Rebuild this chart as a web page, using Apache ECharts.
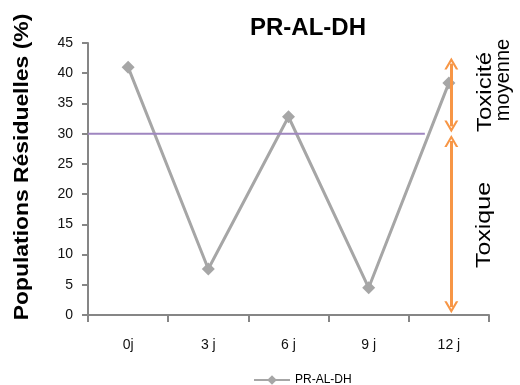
<!DOCTYPE html>
<html>
<head>
<meta charset="utf-8">
<script src="https://cdn.jsdelivr.net/npm/echarts@6/dist/echarts.min.js"></script>
<style>html,body{margin:0;padding:0;background:#fff}#c{width:520px;height:385px}</style>
</head>
<body>
<div id="c"></div>
<script>
var categories = ['0j', '3 j', '6 j', '9 j', '12 j'];
var seriesName = 'PR-AL-DH';
var values = [41, 7.6, 32.8, 4.5, 38.4];
var threshold = 30;
var thresholdEnd = 4.2;      // on hidden value x axis (0..5)
var arrowX = 4.53;
var arrowTop = 41.6;
var arrowMidUpper = 31.2;
var arrowMidLower = 28.8;
var arrowBottom = 1.3;
var yTicks = [0, 45, 5];

var chart = echarts.init(document.getElementById('c'));
var chevron = 'path://M0,12 L7,0 L14,12 L11.6,12 L7,4.2 L2.4,12 Z';
var orange = '#f79646';
chart.setOption({
  animation: false,
  title: {
    text: 'PR-AL-DH', left: 303, top: 11, textAlign: 'center',
    textStyle: { fontFamily: 'Liberation Sans', fontWeight: 'bold', fontSize: 24, color: '#000' }
  },
  grid: { left: 88, right: 31, top: 43, bottom: 70 },
  legend: {
    bottom: -6, left: 248,
    data: [seriesName],
    itemWidth: 36, itemHeight: 12, itemGap: 4,
    textStyle: { fontFamily: 'Liberation Sans', fontSize: 12, color: '#000' }
  },
  xAxis: [{
    type: 'category', data: categories, boundaryGap: true,
    axisLine: { lineStyle: { color: '#868686', width: 2 } },
    axisTick: { show: true, alignWithLabel: false, length: 7, lineStyle: { color: '#868686', width: 2 } },
    axisLabel: { fontFamily: 'Liberation Sans', fontSize: 14, color: '#111', margin: 23 }
  }, {
    type: 'value', min: 0, max: 5, show: false
  }],
  yAxis: {
    type: 'value', min: yTicks[0], max: yTicks[1], interval: yTicks[2],
    splitLine: { show: false },
    axisLine: { show: true, lineStyle: { color: '#868686', width: 2 } },
    axisTick: { show: true, length: 6, lineStyle: { color: '#868686', width: 2 } },
    axisLabel: { fontFamily: 'Liberation Sans', fontSize: 14, color: '#111', margin: 15 }
  },
  series: [{
    name: seriesName, type: 'line', data: values,
    symbol: 'diamond', symbolSize: 13, showSymbol: true,
    lineStyle: { color: '#a6a6a6', width: 3 },
    itemStyle: { color: '#a6a6a6' }
  }, {
    name: 'seuil', type: 'line', xAxisIndex: 1,
    data: [[0, threshold], [thresholdEnd, threshold]],
    symbol: 'none', lineStyle: { color: '#9f86c0', width: 2 },
    markLine: {
      silent: true, symbol: [chevron, chevron], symbolSize: [14, 12], symbolOffset: 0,
      label: { show: false },
      lineStyle: { color: orange, width: 3, type: 'solid' },
      data: [
        [{ coord: [arrowX, arrowTop] }, { coord: [arrowX, arrowMidUpper] }],
        [{ coord: [arrowX, arrowMidLower] }, { coord: [arrowX, arrowBottom] }]
      ]
    }
  }],
  graphic: [
    { type: 'text', x: 12, y: 167, rotation: Math.PI / 2, scaleX: 1.09,
      style: { text: 'Populations Résiduelles (%)', fontFamily: 'Liberation Sans', fontWeight: 'bold', fontSize: 21,
               fill: '#000', align: 'center', verticalAlign: 'top' } },
    { type: 'text', x: 475, y: 92, rotation: Math.PI / 2, scaleX: 1.2,
      style: { text: 'Toxicité', fontFamily: 'Liberation Sans', fontSize: 20, fill: '#000', align: 'center', verticalAlign: 'top' } },
    { type: 'text', x: 493, y: 80, rotation: Math.PI / 2,
      style: { text: 'moyenne', fontFamily: 'Liberation Sans', fontSize: 20, fill: '#000', align: 'center', verticalAlign: 'top' } },
    { type: 'text', x: 474, y: 225, rotation: Math.PI / 2, scaleX: 1.25,
      style: { text: 'Toxique', fontFamily: 'Liberation Sans', fontSize: 20, fill: '#000', align: 'center', verticalAlign: 'top' } }
  ]
});
</script>
</body>
</html>
